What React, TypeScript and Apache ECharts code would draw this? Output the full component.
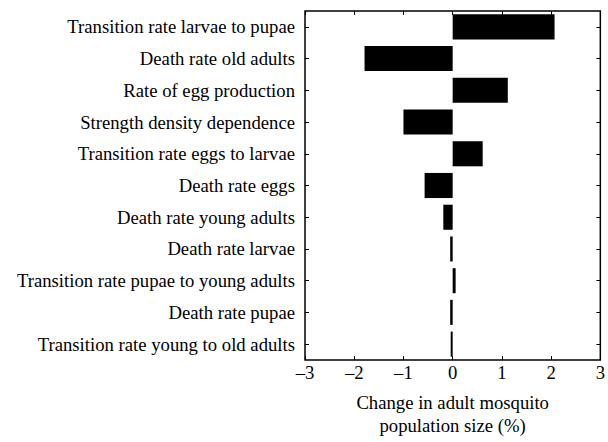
import React, { useEffect, useRef } from "react";
import * as echarts from "echarts";

// Model parameters (top to bottom) and the resulting change in adult population
const parameters = [
  "Transition rate larvae to pupae",
  "Death rate old adults",
  "Rate of egg production",
  "Strength density dependence",
  "Transition rate eggs to larvae",
  "Death rate eggs",
  "Death rate young adults",
  "Death rate larvae",
  "Transition rate pupae to young adults",
  "Death rate pupae",
  "Transition rate young to old adults",
];
const changePercent = [2.07, -1.79, 1.12, -1.0, 0.61, -0.57, -0.19, -0.05, 0.06, -0.05, -0.04];
const xTicks = [-3, -2, -1, 0, 1, 2, 3];

const FONT = "Liberation Serif";

export default function App() {
  const ref = useRef<HTMLDivElement>(null);

  useEffect(() => {
    if (!ref.current) return;
    const chart = echarts.init(ref.current, undefined, { renderer: "svg" });
    const tick = { show: true, inside: true, length: 4, lineStyle: { color: "#000", width: 1 } };
    const noLine = { show: false, onZero: false };
    chart.setOption({
      animation: false,
      backgroundColor: "#fff",
      grid: {
        left: 305,
        right: 7,
        top: 11,
        bottom: 82,
        show: true,
        borderColor: "#000",
        borderWidth: 1.5,
        backgroundColor: "transparent",
      },
      xAxis: [
        {
          type: "value",
          position: "bottom",
          min: xTicks[0],
          max: xTicks[xTicks.length - 1],
          interval: 1,
          axisLine: noLine,
          axisTick: tick,
          splitLine: { show: false },
          axisLabel: {
            color: "#000",
            fontFamily: FONT,
            fontSize: 18.7,
            margin: 3,
            formatter: (v: number) => String(v).replace("-", "\u2013"),
          },
          name: "Change in adult mosquito\npopulation size (%)",
          nameLocation: "middle",
          nameGap: 31,
          nameTextStyle: { color: "#000", fontFamily: FONT, fontSize: 18.7, lineHeight: 23, verticalAlign: "top" },
        },
        {
          type: "value",
          position: "top",
          min: xTicks[0],
          max: xTicks[xTicks.length - 1],
          interval: 1,
          axisLine: noLine,
          axisTick: tick,
          splitLine: { show: false },
          axisLabel: { show: false },
        },
      ],
      yAxis: [
        {
          type: "category",
          data: parameters,
          inverse: true,
          position: "left",
          axisLine: noLine,
          axisTick: { ...tick, alignWithLabel: true },
          axisLabel: { color: "#000", fontFamily: FONT, fontSize: 18.7, margin: 10 },
        },
        {
          type: "category",
          data: parameters,
          inverse: true,
          position: "right",
          axisLine: noLine,
          axisTick: { ...tick, alignWithLabel: true },
          axisLabel: { show: false },
        },
      ],
      series: [
        {
          type: "bar",
          xAxisIndex: 0,
          yAxisIndex: 0,
          data: changePercent,
          barWidth: "79%",
          itemStyle: { color: "#000" },
        },
      ],
    });
    return () => chart.dispose();
  }, []);

  return (
    <div
      ref={ref}
      style={{ position: "fixed", left: 0, top: 0, width: 608, height: 442 }}
    />
  );
}
